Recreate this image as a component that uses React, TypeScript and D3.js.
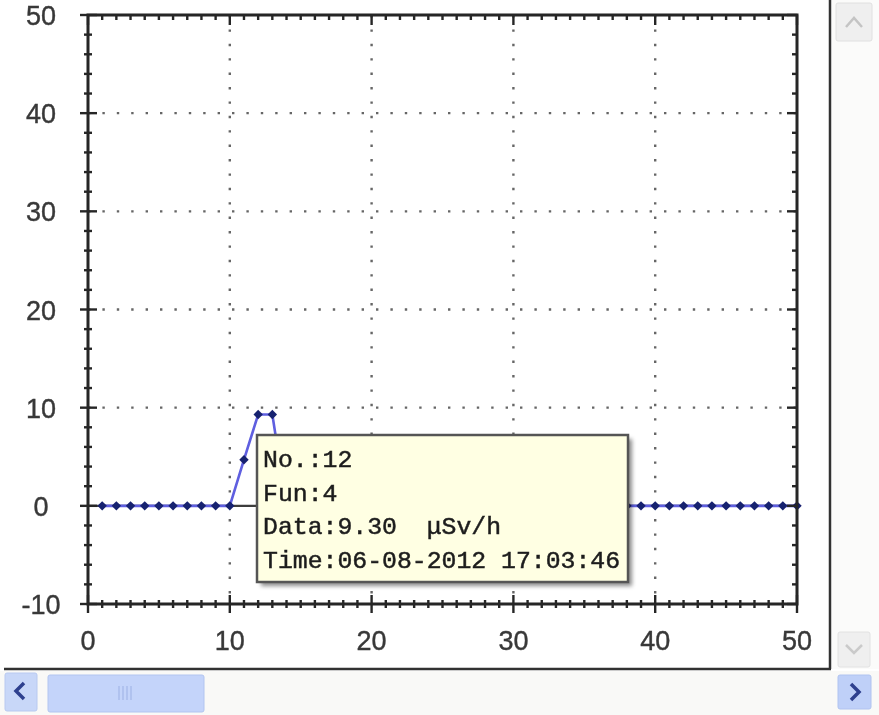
import React, { useRef, useEffect } from 'react';
import * as d3 from 'd3';

// Point numbers on the x axis and measured dose rate (µSv/h)
const pointNo = [
  1, 2, 3, 4, 5, 6, 7, 8, 9, 10, 11, 12, 13, 14, 15, 16, 17, 18, 19, 20, 21, 22, 23, 24, 25,
  26, 27, 28, 29, 30, 31, 32, 33, 34, 35, 36, 37, 38, 39, 40, 41, 42, 43, 44, 45, 46, 47, 48, 49, 50,
];
const doseValues = [
  0, 0, 0, 0, 0, 0, 0, 0, 0, 0, 4.7, 9.3, 9.3, 0, 0, 0, 0, 0, 0, 0, 0, 0, 0, 0, 0,
  0, 0, 0, 0, 0, 0, 0, 0, 0, 0, 0, 0, 0, 0, 0, 0, 0, 0, 0, 0, 0, 0, 0, 0, 0,
];

const xTicks = [0, 10, 20, 30, 40, 50];
const yTicks = [-10, 0, 10, 20, 30, 40, 50];

const tooltipLines = ['No.:12', 'Fun:4', 'Data:9.30  μSv/h', 'Time:06-08-2012 17:03:46'];

const W = 879;
const H = 715;

const App: React.FC = () => {
  const ref = useRef<SVGSVGElement | null>(null);

  useEffect(() => {
    if (!ref.current) return;
    const svg = d3.select<SVGSVGElement, unknown>(ref.current);
    svg.selectAll('*').remove();

    const x = d3.scaleLinear().domain([0, 50]).range([88, 797]);
    const y = d3.scaleLinear().domain([-10, 50]).range([604, 15]);
    const [x0, x1] = x.range();
    const [y0, y1] = y.range();

    const defs = svg.append('defs');
    defs.append('filter').attr('id', 'soft')
      .append('feGaussianBlur').attr('stdDeviation', 0.6);
    defs.append('filter').attr('id', 'shadow')
      .append('feGaussianBlur').attr('stdDeviation', 2);

    svg.append('rect').attr('width', W).attr('height', H).attr('fill', '#ffffff');

    const g = svg.append('g').attr('filter', 'url(#soft)');

    // dotted grid
    const gridX = xTicks.filter(v => v > 0 && v < 50);
    const gridY = yTicks.filter(v => v > -10 && v < 50 && v !== 0);
    g.selectAll('line.gx').data(gridX).enter().append('line')
      .attr('x1', d => x(d)).attr('x2', d => x(d))
      .attr('y1', y1).attr('y2', y0)
      .attr('stroke', '#666').attr('stroke-width', 2.4).attr('stroke-dasharray', '2.4 12');
    g.selectAll('line.gy').data(gridY).enter().append('line')
      .attr('y1', d => y(d)).attr('y2', d => y(d))
      .attr('x1', x0).attr('x2', x1)
      .attr('stroke', '#666').attr('stroke-width', 2.4).attr('stroke-dasharray', '2.4 12');

    // zero reference line
    g.append('line')
      .attr('x1', x0).attr('x2', x1).attr('y1', y(0)).attr('y2', y(0))
      .attr('stroke', '#3c3c3c').attr('stroke-width', 2.4);

    // series
    const line = d3.line<number>()
      .x((_, i) => x(pointNo[i]))
      .y(d => y(d));
    g.append('path').datum(doseValues)
      .attr('d', line)
      .attr('fill', 'none')
      .attr('stroke', '#5e5ee0')
      .attr('stroke-width', 2.6);

    const marker = d3.symbol().type(d3.symbolSquare).size(44);
    g.selectAll('path.pt').data(doseValues).enter().append('path')
      .attr('d', marker)
      .attr('transform', (d, i) => `translate(${x(pointNo[i])},${y(d)}) rotate(45)`)
      .attr('fill', '#19206f');

    // axes frame
    const axisColor = '#262626';
    g.append('rect')
      .attr('x', x0).attr('y', y1).attr('width', x1 - x0).attr('height', y0 - y1)
      .attr('fill', 'none').attr('stroke', axisColor).attr('stroke-width', 3);

    const xMinor = d3.range(0, 51, 1);
    const yMinor = d3.range(-10, 51, 2);

    // bottom axis ticks (crossing)
    g.selectAll('line.bt').data(xMinor).enter().append('line')
      .attr('x1', d => x(d)).attr('x2', d => x(d))
      .attr('y1', d => y0 - (d % 10 === 0 ? 9 : 4))
      .attr('y2', d => y0 + (d % 10 === 0 ? 9 : 4))
      .attr('stroke', axisColor).attr('stroke-width', 2.4);
    // top axis ticks (inward)
    g.selectAll('line.tt').data(xMinor).enter().append('line')
      .attr('x1', d => x(d)).attr('x2', d => x(d))
      .attr('y1', y1).attr('y2', d => y1 + (d % 10 === 0 ? 10 : 5))
      .attr('stroke', axisColor).attr('stroke-width', 2.4);
    // left axis ticks (crossing)
    g.selectAll('line.lt').data(yMinor).enter().append('line')
      .attr('y1', d => y(d)).attr('y2', d => y(d))
      .attr('x1', d => x0 - (d % 10 === 0 ? 8 : 4))
      .attr('x2', d => x0 + (d % 10 === 0 ? 9 : 4))
      .attr('stroke', axisColor).attr('stroke-width', 2.4);
    // right axis ticks (inward)
    g.selectAll('line.rt').data(yMinor).enter().append('line')
      .attr('y1', d => y(d)).attr('y2', d => y(d))
      .attr('x1', x1).attr('x2', d => x1 - (d % 10 === 0 ? 10 : 5))
      .attr('stroke', axisColor).attr('stroke-width', 2.4);

    // tick labels
    const labelFont = '"Liberation Sans", Arial, sans-serif';
    g.selectAll('text.xl').data(xTicks).enter().append('text')
      .attr('x', d => x(d)).attr('y', 650)
      .attr('text-anchor', 'middle')
      .style('font-family', labelFont)
      .style('font-size', '27px').style('fill', '#383838')
      .style('stroke', '#383838').style('stroke-width', '0.4px')
      .text(d => String(d));
    g.selectAll('text.yl').data(yTicks).enter().append('text')
      .attr('x', 41).attr('y', d => y(d) + 10)
      .attr('text-anchor', 'middle')
      .style('font-family', labelFont)
      .style('font-size', '27px').style('fill', '#383838')
      .style('stroke', '#383838').style('stroke-width', '0.4px')
      .text(d => String(d));

    // window frame
    g.append('line').attr('x1', 830).attr('x2', 830).attr('y1', 0).attr('y2', 669)
      .attr('stroke', '#333').attr('stroke-width', 2.5);
    g.append('line').attr('x1', 4).attr('x2', 831).attr('y1', 669).attr('y2', 669)
      .attr('stroke', '#333').attr('stroke-width', 2.5);

    // scrollbars
    g.append('rect').attr('x', 832).attr('y', 0).attr('width', 47).attr('height', 669).attr('fill', '#fbfbfa');
    g.append('rect').attr('x', 0).attr('y', 671).attr('width', W).attr('height', 44).attr('fill', '#f9f9f7');

    const btn = (bx: number, by: number, bw: number, bh: number, fill: string, stroke: string) =>
      g.append('rect').attr('x', bx).attr('y', by).attr('width', bw).attr('height', bh)
        .attr('rx', 2).attr('fill', fill).attr('stroke', stroke).attr('stroke-width', 1);

    btn(836, 3, 36, 38, '#efefef', '#e0e0e0');
    g.append('path').attr('d', 'M846,27 L854,18 L862,27').attr('fill', 'none')
      .attr('stroke', '#c4c4c4').attr('stroke-width', 2.5);
    btn(838, 632, 32, 35, '#efefef', '#e2e2e2');
    g.append('path').attr('d', 'M846,645 L854,653 L862,645').attr('fill', 'none')
      .attr('stroke', '#cacaca').attr('stroke-width', 2.5);

    btn(5, 673, 32, 38, '#c8d7f8', '#b8c9f0');
    g.append('path').attr('d', 'M24,683 L16,691 L24,699').attr('fill', 'none')
      .attr('stroke', '#2e3f8e').attr('stroke-width', 3.5);
    btn(48, 675, 156, 37, '#c4d4fa', '#b2c5f0');
    [119, 123, 127, 131].forEach(gx => {
      g.append('line').attr('x1', gx).attr('x2', gx).attr('y1', 686).attr('y2', 700)
        .attr('stroke', '#a3b6e8').attr('stroke-width', 1.2);
    });
    btn(838, 675, 33, 34, '#bfd0f8', '#b0c3f0');
    g.append('path').attr('d', 'M851,684 L859,692 L851,700').attr('fill', 'none')
      .attr('stroke', '#2e3f8e').attr('stroke-width', 3.5);

    // tooltip
    const tx = 257;
    const ty = 435;
    const tw = 371;
    const th = 147;
    g.append('rect').attr('x', tx + 4).attr('y', ty + 4).attr('width', tw).attr('height', th)
      .attr('fill', 'rgba(0,0,0,0.45)').attr('filter', 'url(#shadow)');
    g.append('rect').attr('x', tx).attr('y', ty).attr('width', tw).attr('height', th)
      .attr('fill', '#ffffe3').attr('stroke', '#555').attr('stroke-width', 2.5);
    g.selectAll('text.tip').data(tooltipLines).enter().append('text')
      .attr('x', tx + 6).attr('y', (_, i) => 467 + i * 33.5)
      .attr('xml:space', 'preserve')
      .style('white-space', 'pre')
      .style('font-family', '"Liberation Mono", "DejaVu Sans Mono", monospace')
      .style('font-size', '24.8px').style('fill', '#1e1e1e')
      .style('stroke', '#1e1e1e').style('stroke-width', '0.5px')
      .text(d => d);
  }, []);

  return (
    <svg
      ref={ref}
      width={W}
      height={H}
      style={{ position: 'absolute', left: 0, top: 0 }}
    />
  );
};

export default App;
